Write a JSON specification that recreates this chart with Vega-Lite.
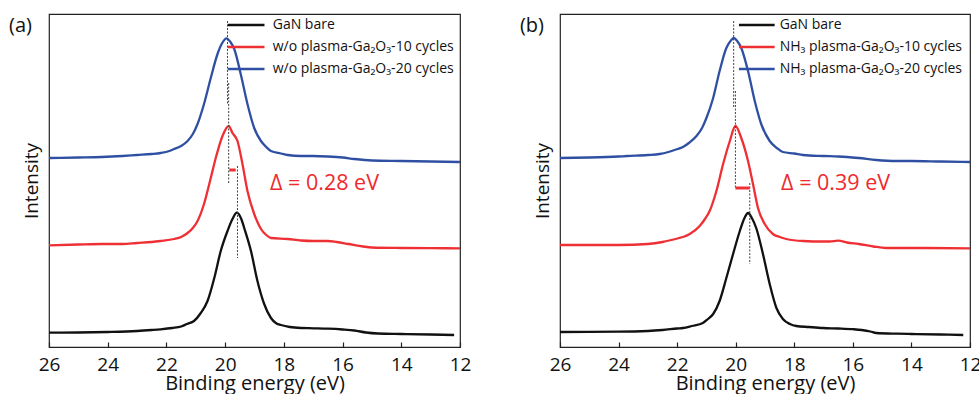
{
  "$schema": "https://vega.github.io/schema/vega-lite/v6.json",
  "padding": {"left": 8, "top": 13, "right": 0, "bottom": 0},
  "spacing": 47,
  "datasets": {
    "curves_a": [
      {"s":"bare","e":26,"v":14.3},{"s":"bare","e":25,"v":14.5},{"s":"bare","e":24,"v":15},{"s":"bare","e":23,"v":16},{"s":"bare","e":22.5,"v":17},{"s":"bare","e":22.2,"v":17.7},{"s":"bare","e":21.8,"v":19},{"s":"bare","e":21.5,"v":20.5},{"s":"bare","e":21.3,"v":23},{"s":"bare","e":21.06,"v":26},{"s":"bare","e":20.83,"v":34},{"s":"bare","e":20.6,"v":46},{"s":"bare","e":20.37,"v":69},{"s":"bare","e":20.15,"v":96},{"s":"bare","e":19.92,"v":116},{"s":"bare","e":19.75,"v":128},{"s":"bare","e":19.6,"v":134.3},{"s":"bare","e":19.45,"v":128},{"s":"bare","e":19.35,"v":119},{"s":"bare","e":19.12,"v":96},{"s":"bare","e":18.9,"v":66},{"s":"bare","e":18.67,"v":43},{"s":"bare","e":18.44,"v":29},{"s":"bare","e":18.25,"v":23.5},{"s":"bare","e":18.1,"v":22},{"s":"bare","e":17.8,"v":20},{"s":"bare","e":17.42,"v":19},{"s":"bare","e":17,"v":18.7},{"s":"bare","e":16.5,"v":18.3},{"s":"bare","e":16,"v":17.5},{"s":"bare","e":15.6,"v":16.5},{"s":"bare","e":15.2,"v":14.5},{"s":"bare","e":14.8,"v":13.5},{"s":"bare","e":14,"v":13},{"s":"bare","e":13,"v":12.5},{"s":"bare","e":12.2,"v":12},
      {"s":"c10","e":26,"v":101.7},{"s":"c10","e":25,"v":102.5},{"s":"c10","e":24.2,"v":103},{"s":"c10","e":23.5,"v":103},{"s":"c10","e":23,"v":104},{"s":"c10","e":22.5,"v":105},{"s":"c10","e":22.2,"v":106},{"s":"c10","e":21.74,"v":108},{"s":"c10","e":21.5,"v":110},{"s":"c10","e":21.28,"v":114},{"s":"c10","e":21.1,"v":119},{"s":"c10","e":20.94,"v":126},{"s":"c10","e":20.72,"v":143},{"s":"c10","e":20.49,"v":169},{"s":"c10","e":20.32,"v":189},{"s":"c10","e":20.09,"v":211},{"s":"c10","e":19.88,"v":221},{"s":"c10","e":19.75,"v":214},{"s":"c10","e":19.58,"v":206},{"s":"c10","e":19.41,"v":183},{"s":"c10","e":19.24,"v":156},{"s":"c10","e":19.01,"v":133},{"s":"c10","e":18.78,"v":118},{"s":"c10","e":18.6,"v":112},{"s":"c10","e":18.44,"v":109},{"s":"c10","e":17.87,"v":108},{"s":"c10","e":17.42,"v":106.5},{"s":"c10","e":17,"v":106},{"s":"c10","e":16.5,"v":106},{"s":"c10","e":16.2,"v":105},{"s":"c10","e":15.8,"v":103},{"s":"c10","e":15.3,"v":100.5},{"s":"c10","e":15,"v":99.5},{"s":"c10","e":14,"v":99},{"s":"c10","e":13,"v":98.8},{"s":"c10","e":12,"v":98.7},
      {"s":"c20","e":26,"v":189},{"s":"c20","e":25,"v":189.5},{"s":"c20","e":24.2,"v":190},{"s":"c20","e":23.5,"v":191},{"s":"c20","e":23,"v":192},{"s":"c20","e":22.5,"v":193},{"s":"c20","e":22.2,"v":194},{"s":"c20","e":21.9,"v":196},{"s":"c20","e":21.74,"v":198},{"s":"c20","e":21.5,"v":201},{"s":"c20","e":21.28,"v":206},{"s":"c20","e":21.1,"v":213},{"s":"c20","e":20.94,"v":223},{"s":"c20","e":20.72,"v":243},{"s":"c20","e":20.49,"v":269},{"s":"c20","e":20.26,"v":293},{"s":"c20","e":20.1,"v":304},{"s":"c20","e":19.95,"v":308.7},{"s":"c20","e":19.82,"v":305},{"s":"c20","e":19.69,"v":298},{"s":"c20","e":19.47,"v":273},{"s":"c20","e":19.24,"v":243},{"s":"c20","e":19.01,"v":219},{"s":"c20","e":18.78,"v":206},{"s":"c20","e":18.6,"v":200},{"s":"c20","e":18.44,"v":196},{"s":"c20","e":18.1,"v":193.5},{"s":"c20","e":17.87,"v":192},{"s":"c20","e":17.42,"v":191},{"s":"c20","e":17,"v":191},{"s":"c20","e":16.5,"v":190.5},{"s":"c20","e":16,"v":189.5},{"s":"c20","e":15.6,"v":188},{"s":"c20","e":15,"v":186.5},{"s":"c20","e":14,"v":186},{"s":"c20","e":13,"v":185.5},{"s":"c20","e":12,"v":185}
    ],
    "curves_b": [
      {"s":"bare","e":26,"v":15},{"s":"bare","e":25,"v":15.2},{"s":"bare","e":24,"v":15.3},{"s":"bare","e":23,"v":16},{"s":"bare","e":22.5,"v":17},{"s":"bare","e":22,"v":18.5},{"s":"bare","e":21.8,"v":19},{"s":"bare","e":21.5,"v":21},{"s":"bare","e":21.12,"v":24},{"s":"bare","e":20.95,"v":28},{"s":"bare","e":20.77,"v":33},{"s":"bare","e":20.55,"v":46},{"s":"bare","e":20.32,"v":69},{"s":"bare","e":20.09,"v":93},{"s":"bare","e":19.86,"v":116},{"s":"bare","e":19.7,"v":129},{"s":"bare","e":19.58,"v":134},{"s":"bare","e":19.45,"v":129},{"s":"bare","e":19.3,"v":119},{"s":"bare","e":19.07,"v":93},{"s":"bare","e":18.84,"v":63},{"s":"bare","e":18.61,"v":39},{"s":"bare","e":18.39,"v":28},{"s":"bare","e":18.15,"v":23},{"s":"bare","e":17.93,"v":21},{"s":"bare","e":17.5,"v":20},{"s":"bare","e":17.02,"v":19},{"s":"bare","e":16.5,"v":18.5},{"s":"bare","e":16,"v":17.8},{"s":"bare","e":15.7,"v":17},{"s":"bare","e":15.4,"v":15.5},{"s":"bare","e":15.2,"v":14},{"s":"bare","e":14.5,"v":13.3},{"s":"bare","e":14,"v":13},{"s":"bare","e":13,"v":12.5},{"s":"bare","e":12.23,"v":12},
      {"s":"c10","e":26,"v":102},{"s":"c10","e":25,"v":102},{"s":"c10","e":24,"v":102},{"s":"c10","e":23,"v":103},{"s":"c10","e":22.5,"v":105},{"s":"c10","e":22.2,"v":107},{"s":"c10","e":21.93,"v":109},{"s":"c10","e":21.8,"v":110},{"s":"c10","e":21.57,"v":113},{"s":"c10","e":21.23,"v":121},{"s":"c10","e":21.05,"v":128},{"s":"c10","e":20.89,"v":136},{"s":"c10","e":20.66,"v":156},{"s":"c10","e":20.43,"v":183},{"s":"c10","e":20.2,"v":206},{"s":"c10","e":20.01,"v":221},{"s":"c10","e":19.81,"v":209},{"s":"c10","e":19.58,"v":186},{"s":"c10","e":19.41,"v":163},{"s":"c10","e":19.24,"v":139},{"s":"c10","e":19.01,"v":123},{"s":"c10","e":18.73,"v":113},{"s":"c10","e":18.5,"v":110},{"s":"c10","e":18.27,"v":108},{"s":"c10","e":17.7,"v":106},{"s":"c10","e":17.02,"v":105.5},{"s":"c10","e":16.8,"v":105.5},{"s":"c10","e":16.5,"v":106.3},{"s":"c10","e":16.2,"v":104.5},{"s":"c10","e":15.8,"v":103},{"s":"c10","e":15.3,"v":100.5},{"s":"c10","e":14.87,"v":99},{"s":"c10","e":14,"v":99},{"s":"c10","e":13.5,"v":99},{"s":"c10","e":12,"v":98.7},
      {"s":"c20","e":26,"v":189},{"s":"c20","e":25,"v":189.5},{"s":"c20","e":24,"v":190.5},{"s":"c20","e":23.7,"v":191},{"s":"c20","e":23,"v":192},{"s":"c20","e":22.6,"v":193},{"s":"c20","e":22.3,"v":195},{"s":"c20","e":22.04,"v":197.5},{"s":"c20","e":21.8,"v":200},{"s":"c20","e":21.6,"v":204},{"s":"c20","e":21.34,"v":211},{"s":"c20","e":21.15,"v":219},{"s":"c20","e":21,"v":229},{"s":"c20","e":20.77,"v":249},{"s":"c20","e":20.55,"v":276},{"s":"c20","e":20.32,"v":299},{"s":"c20","e":20.15,"v":307},{"s":"c20","e":20.07,"v":309},{"s":"c20","e":19.95,"v":306},{"s":"c20","e":19.81,"v":299},{"s":"c20","e":19.58,"v":276},{"s":"c20","e":19.35,"v":246},{"s":"c20","e":19.13,"v":223},{"s":"c20","e":18.84,"v":206},{"s":"c20","e":18.6,"v":199},{"s":"c20","e":18.39,"v":195},{"s":"c20","e":18,"v":193.5},{"s":"c20","e":17.7,"v":192},{"s":"c20","e":17.02,"v":191},{"s":"c20","e":16.5,"v":190.5},{"s":"c20","e":16.2,"v":190},{"s":"c20","e":15.8,"v":189},{"s":"c20","e":15.2,"v":187},{"s":"c20","e":14.5,"v":186},{"s":"c20","e":14,"v":186},{"s":"c20","e":13,"v":185.5},{"s":"c20","e":12,"v":185}
    ],
    "dash_a": [{"e":19.92,"v":326,"v2":243},{"e":19.88,"v":264,"v2":164},{"e":19.58,"v":181,"v2":89}],
    "dash_b": [{"e":20.07,"v":326,"v2":239},{"e":20.01,"v":256,"v2":158},{"e":19.52,"v":164,"v2":83}],
    "bar_a": [{"e":19.86,"e2":19.64,"v":177}],
    "bar_b": [{"e":20.01,"e2":19.52,"v":159}],
    "legend_a": [
      {"s":"bare","e":19.91,"e2":18.66,"et":18.38,"v":322,"label":"GaN bare"},
      {"s":"c10","e":19.91,"e2":18.66,"et":18.38,"v":300,"label":"w/o plasma-Ga₂O₃-10 cycles"},
      {"s":"c20","e":19.91,"e2":18.66,"et":18.38,"v":278,"label":"w/o plasma-Ga₂O₃-20 cycles"}
    ],
    "legend_b": [
      {"s":"bare","e":19.89,"e2":18.67,"et":18.5,"v":322,"label":"GaN bare"},
      {"s":"c10","e":19.89,"e2":18.67,"et":18.5,"v":300,"label":"NH₃ plasma-Ga₂O₃-10 cycles"},
      {"s":"c20","e":19.89,"e2":18.67,"et":18.5,"v":278,"label":"NH₃ plasma-Ga₂O₃-20 cycles"}
    ],
    "note_a": [{"e":18.47,"v":163,"label":"Δ = 0.28 eV"}],
    "note_b": [{"e":18.45,"v":163,"label":"Δ = 0.39 eV"}],
    "tag_a": [{"e":27.36,"v":321,"label":"(a)"}],
    "tag_b": [{"e":27.37,"v":321,"label":"(b)"}]
  },
  "hconcat": [
    {
      "width": 411, "height": 333,
      "layer": [
        {"data": {"name": "curves_a"}, "mark": {"type": "line", "strokeWidth": 2.3, "interpolate": "monotone"},
         "encoding": {
           "x": {"field": "e", "type": "quantitative", "title": "Binding energy (eV)", "scale": {"domain": [12, 26], "reverse": true, "nice": false, "zero": false}, "axis": {"values": [26,24,22,20,18,16,14,12]}},
           "y": {"field": "v", "type": "quantitative", "title": "Intensity", "scale": {"domain": [0, 333], "nice": false, "zero": false}},
           "color": {"field": "s", "type": "nominal", "scale": {"domain": ["bare","c10","c20"], "range": ["#111111","#ee3035","#2f50a2"]}, "legend": null}
         }},
        {"data": {"name": "dash_a"}, "mark": {"type": "rule", "strokeDash": [2, 1.5], "strokeWidth": 1, "color": "#444"},
         "encoding": {
           "x": {"field": "e", "type": "quantitative", "title": "Binding energy (eV)", "scale": {"domain": [12, 26], "reverse": true, "nice": false, "zero": false}},
           "y": {"field": "v", "type": "quantitative", "title": "Intensity", "scale": {"domain": [0, 333], "nice": false, "zero": false}},
           "y2": {"field": "v2"}
         }},
        {"data": {"name": "bar_a"}, "mark": {"type": "rule", "strokeWidth": 3, "color": "#ee3035"},
         "encoding": {
           "x": {"field": "e", "type": "quantitative", "title": "Binding energy (eV)", "scale": {"domain": [12, 26], "reverse": true, "nice": false, "zero": false}},
           "x2": {"field": "e2"},
           "y": {"field": "v", "type": "quantitative", "title": "Intensity", "scale": {"domain": [0, 333], "nice": false, "zero": false}}
         }},
        {"data": {"name": "legend_a"}, "mark": {"type": "rule", "strokeWidth": 2.3},
         "encoding": {
           "x": {"field": "e", "type": "quantitative", "title": "Binding energy (eV)", "scale": {"domain": [12, 26], "reverse": true, "nice": false, "zero": false}},
           "x2": {"field": "e2"},
           "y": {"field": "v", "type": "quantitative", "title": "Intensity", "scale": {"domain": [0, 333], "nice": false, "zero": false}},
           "color": {"field": "s", "type": "nominal", "scale": {"domain": ["bare","c10","c20"], "range": ["#111111","#ee3035","#2f50a2"]}, "legend": null}
         }},
        {"data": {"name": "legend_a"}, "mark": {"type": "text", "align": "left", "baseline": "middle", "fontSize": 14, "font": "Open Sans", "color": "#111"},
         "encoding": {
           "x": {"field": "et", "type": "quantitative", "title": "Binding energy (eV)", "scale": {"domain": [12, 26], "reverse": true, "nice": false, "zero": false}},
           "y": {"field": "v", "type": "quantitative", "title": "Intensity", "scale": {"domain": [0, 333], "nice": false, "zero": false}},
           "text": {"field": "label"}
         }},
        {"data": {"name": "note_a"}, "mark": {"type": "text", "align": "left", "baseline": "middle", "fontSize": 21.5, "font": "Open Sans", "color": "#ee2a2e"},
         "encoding": {
           "x": {"field": "e", "type": "quantitative", "title": "Binding energy (eV)", "scale": {"domain": [12, 26], "reverse": true, "nice": false, "zero": false}},
           "y": {"field": "v", "type": "quantitative", "title": "Intensity", "scale": {"domain": [0, 333], "nice": false, "zero": false}},
           "text": {"field": "label"}
         }},
        {"data": {"name": "tag_a"}, "mark": {"type": "text", "align": "left", "baseline": "middle", "fontSize": 20, "font": "Open Sans", "color": "#111"},
         "encoding": {
           "x": {"field": "e", "type": "quantitative", "title": "Binding energy (eV)", "scale": {"domain": [12, 26], "reverse": true, "nice": false, "zero": false}},
           "y": {"field": "v", "type": "quantitative", "title": "Intensity", "scale": {"domain": [0, 333], "nice": false, "zero": false}},
           "text": {"field": "label"}
         }}
      ]
    },
    {
      "width": 410, "height": 333,
      "layer": [
        {"data": {"name": "curves_b"}, "mark": {"type": "line", "strokeWidth": 2.3, "interpolate": "monotone"},
         "encoding": {
           "x": {"field": "e", "type": "quantitative", "title": "Binding energy (eV)", "scale": {"domain": [12, 26], "reverse": true, "nice": false, "zero": false}, "axis": {"values": [26,24,22,20,18,16,14,12]}},
           "y": {"field": "v", "type": "quantitative", "title": "Intensity", "scale": {"domain": [0, 333], "nice": false, "zero": false}},
           "color": {"field": "s", "type": "nominal", "scale": {"domain": ["bare","c10","c20"], "range": ["#111111","#ee3035","#2f50a2"]}, "legend": null}
         }},
        {"data": {"name": "dash_b"}, "mark": {"type": "rule", "strokeDash": [2, 1.5], "strokeWidth": 1, "color": "#444"},
         "encoding": {
           "x": {"field": "e", "type": "quantitative", "title": "Binding energy (eV)", "scale": {"domain": [12, 26], "reverse": true, "nice": false, "zero": false}},
           "y": {"field": "v", "type": "quantitative", "title": "Intensity", "scale": {"domain": [0, 333], "nice": false, "zero": false}},
           "y2": {"field": "v2"}
         }},
        {"data": {"name": "bar_b"}, "mark": {"type": "rule", "strokeWidth": 3, "color": "#ee3035"},
         "encoding": {
           "x": {"field": "e", "type": "quantitative", "title": "Binding energy (eV)", "scale": {"domain": [12, 26], "reverse": true, "nice": false, "zero": false}},
           "x2": {"field": "e2"},
           "y": {"field": "v", "type": "quantitative", "title": "Intensity", "scale": {"domain": [0, 333], "nice": false, "zero": false}}
         }},
        {"data": {"name": "legend_b"}, "mark": {"type": "rule", "strokeWidth": 2.3},
         "encoding": {
           "x": {"field": "e", "type": "quantitative", "title": "Binding energy (eV)", "scale": {"domain": [12, 26], "reverse": true, "nice": false, "zero": false}},
           "x2": {"field": "e2"},
           "y": {"field": "v", "type": "quantitative", "title": "Intensity", "scale": {"domain": [0, 333], "nice": false, "zero": false}},
           "color": {"field": "s", "type": "nominal", "scale": {"domain": ["bare","c10","c20"], "range": ["#111111","#ee3035","#2f50a2"]}, "legend": null}
         }},
        {"data": {"name": "legend_b"}, "mark": {"type": "text", "align": "left", "baseline": "middle", "fontSize": 14, "font": "Open Sans", "color": "#111"},
         "encoding": {
           "x": {"field": "et", "type": "quantitative", "title": "Binding energy (eV)", "scale": {"domain": [12, 26], "reverse": true, "nice": false, "zero": false}},
           "y": {"field": "v", "type": "quantitative", "title": "Intensity", "scale": {"domain": [0, 333], "nice": false, "zero": false}},
           "text": {"field": "label"}
         }},
        {"data": {"name": "note_b"}, "mark": {"type": "text", "align": "left", "baseline": "middle", "fontSize": 21.5, "font": "Open Sans", "color": "#ee2a2e"},
         "encoding": {
           "x": {"field": "e", "type": "quantitative", "title": "Binding energy (eV)", "scale": {"domain": [12, 26], "reverse": true, "nice": false, "zero": false}},
           "y": {"field": "v", "type": "quantitative", "title": "Intensity", "scale": {"domain": [0, 333], "nice": false, "zero": false}},
           "text": {"field": "label"}
         }},
        {"data": {"name": "tag_b"}, "mark": {"type": "text", "align": "left", "baseline": "middle", "fontSize": 20, "font": "Open Sans", "color": "#111"},
         "encoding": {
           "x": {"field": "e", "type": "quantitative", "title": "Binding energy (eV)", "scale": {"domain": [12, 26], "reverse": true, "nice": false, "zero": false}},
           "y": {"field": "v", "type": "quantitative", "title": "Intensity", "scale": {"domain": [0, 333], "nice": false, "zero": false}},
           "text": {"field": "label"}
         }}
      ]
    }
  ],
  "config": {
    "font": "Open Sans",
    "view": {"stroke": "#222", "strokeWidth": 1.2},
    "axisX": {"grid": false, "domain": false, "tickSize": -5, "tickColor": "#222", "tickWidth": 1.2, "labelPadding": 13, "labelFontSize": 19, "labelFont": "Open Sans", "labelColor": "#111", "labelFlush": false, "labelOverlap": false, "titleFontSize": 20, "titleFont": "Open Sans", "titleFontWeight": "normal", "titleColor": "#111", "titlePadding": -1},
    "axisY": {"grid": false, "domain": false, "ticks": false, "labels": false, "titleFontSize": 19, "titleFont": "Open Sans", "titleFontWeight": "normal", "titleColor": "#111", "titlePadding": 8}
  }
}
